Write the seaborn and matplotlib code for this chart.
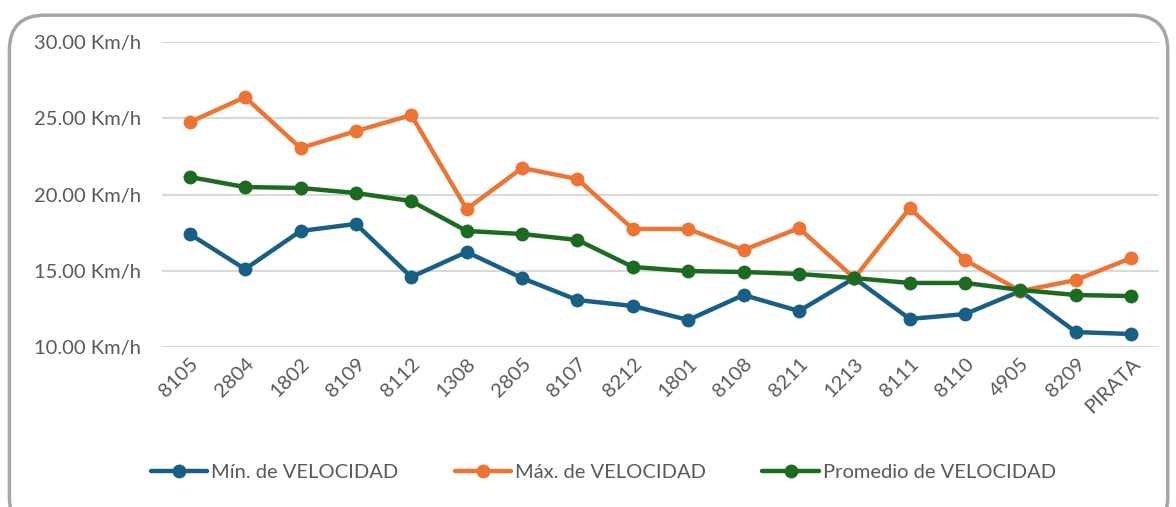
import matplotlib
matplotlib.use("Agg")
import matplotlib.pyplot as plt
from matplotlib.patches import FancyBboxPatch
import seaborn as sns
import pandas as pd

# data
zonas = ["8105", "2804", "1802", "8109", "8112", "1308", "2805", "8107", "8212",
         "1801", "8108", "8211", "1213", "8111", "8110", "4905", "8209", "PIRATA"]
vel_min = [17.41, 15.11, 17.61, 18.07, 14.59, 16.23, 14.52, 13.08, 12.69,
           11.77, 13.41, 12.36, 14.52, 11.84, 12.16, 13.67, 10.98, 10.85]
vel_max = [24.75, 26.39, 23.05, 24.16, 25.21, 19.05, 21.74, 21.02, 17.74,
           17.74, 16.36, 17.80, 14.52, 19.11, 15.70, 13.67, 14.39, 15.84]
vel_prom = [21.15, 20.49, 20.43, 20.10, 19.57, 17.61, 17.41, 17.02, 15.25,
            14.98, 14.92, 14.79, 14.52, 14.20, 14.20, 13.74, 13.41, 13.34]
series = ["Mín. de VELOCIDAD", "Máx. de VELOCIDAD", "Promedio de VELOCIDAD"]
colores = ["#185F85", "#EC7535", "#1D6B22"]

df = pd.DataFrame({"zona": zonas, series[0]: vel_min,
                   series[1]: vel_max, series[2]: vel_prom})
df_long = df.melt(id_vars="zona", var_name="serie", value_name="vel")

sns.set_style("white")
plt.rcParams["font.family"] = ["Lato", "DejaVu Sans"]

fig = plt.figure(figsize=(11.76, 5.07), dpi=100)
ax = fig.add_axes([0.1378, 0.3156, 0.8477, 0.6014])

sns.lineplot(data=df_long, x="zona", y="vel", hue="serie", hue_order=series,
             palette=colores, marker="o", markersize=10, markeredgewidth=0,
             linewidth=3.2, sort=False, ax=ax)

ax.set_ylim(10, 30)
ax.set_xlim(-0.5, len(zonas) - 0.5)
ax.set_yticks([10, 15, 20, 25, 30])
ax.set_yticklabels([f"{v:.2f} Km/h" for v in [10, 15, 20, 25, 30]])
ax.yaxis.grid(True, color="#D9D9D9", linewidth=1.5)
ax.set_axisbelow(True)
for s in ax.spines.values():
    s.set_visible(False)
ax.tick_params(axis="both", length=0, colors="#595959", labelsize=14.5)
ax.tick_params(axis="y", pad=15)
ax.tick_params(axis="x", pad=6)
plt.setp(ax.get_xticklabels(), rotation=45, ha="right", rotation_mode="anchor")
ax.set_xlabel("")
ax.set_ylabel("")

ax.legend(loc="center", bbox_to_anchor=(0.513, 0.069), bbox_transform=fig.transFigure,
          ncol=3, frameon=False, fontsize=14.5, handlelength=2.8, handletextpad=0.2,
          columnspacing=2.8, labelcolor="#595959")

# rounded chart border
fig.patches.append(FancyBboxPatch((0.008, -0.05), 0.985, 1.02, boxstyle="round,pad=0,rounding_size=0.03",
                                  transform=fig.transFigure, fill=False,
                                  edgecolor="#A6A6A6", linewidth=2.5, mutation_aspect=2.3))

fig.savefig("out.png", dpi=100)
